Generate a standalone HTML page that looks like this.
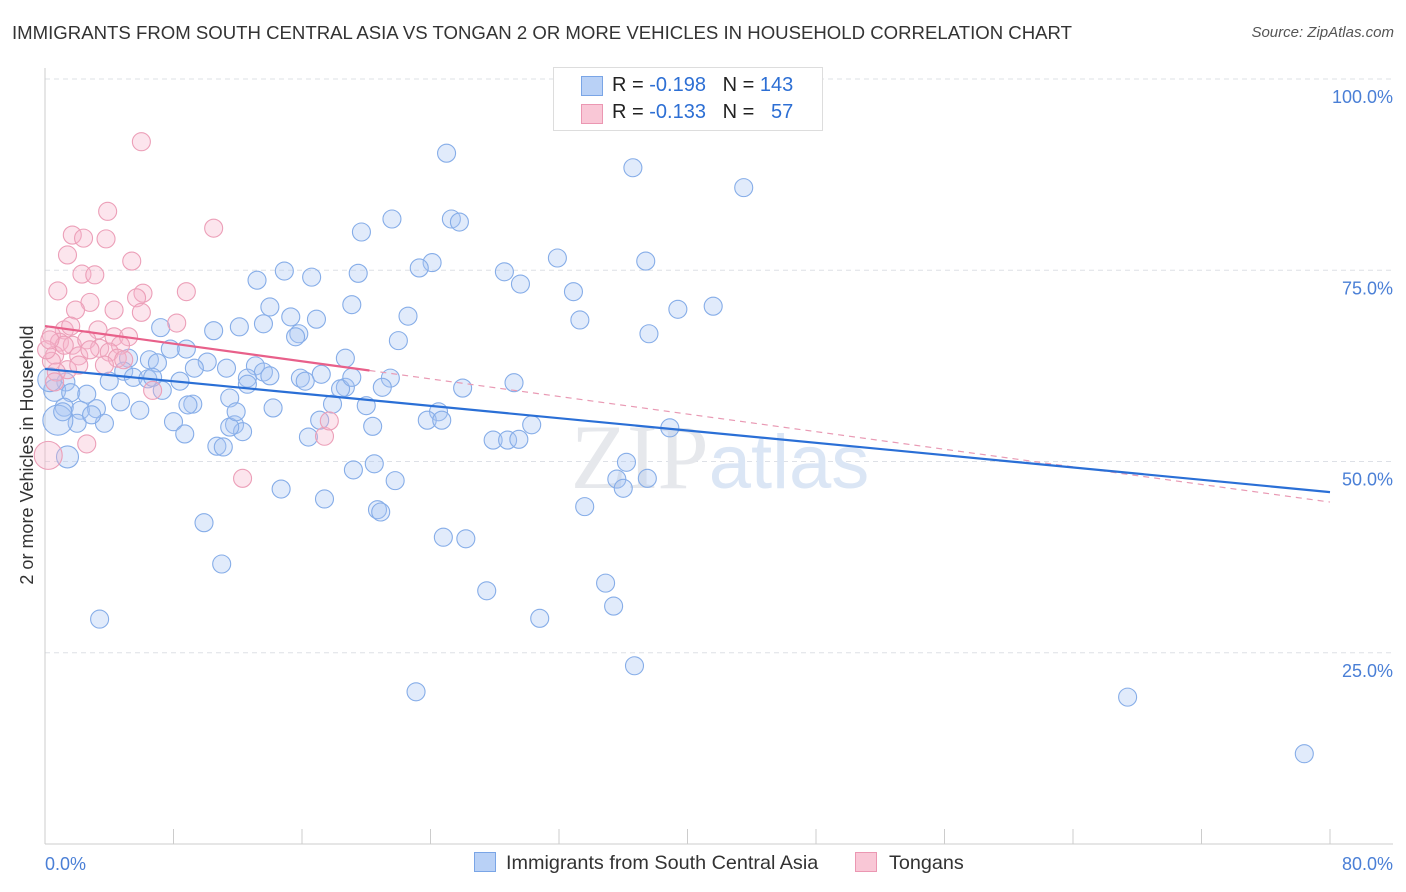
<!DOCTYPE html>
<html><head><meta charset="utf-8"><style>
body{margin:0;background:#fff;font-family:"Liberation Sans",sans-serif;}
#wrap{position:relative;width:1406px;height:892px;overflow:hidden;}
.t{position:absolute;white-space:nowrap;}
</style></head><body>
<div id="wrap">
<div class="t" style="left:12px;top:22px;font-size:18.6px;color:#333">IMMIGRANTS FROM SOUTH CENTRAL ASIA VS TONGAN 2 OR MORE VEHICLES IN HOUSEHOLD CORRELATION CHART</div>
<div class="t" style="right:12px;top:24px;font-size:15px;color:#555;font-style:italic">Source: ZipAtlas.com</div>
<svg id="svg" width="1406" height="892" style="position:absolute;left:0;top:0"></svg>
</div>
<script>
const blueX=[25.0,36.6,43.5,21.6,25.3,25.8,19.7,31.9,24.1,37.4,23.3,14.9,28.6,19.5,16.6,13.2,29.6,32.9,19.1,41.6,14.0,39.4,15.3,22.6,33.3,16.9,12.1,13.6,7.2,10.5,15.8,15.6,37.6,22.0,8.8,7.8,18.7,5.2,6.5,7.0,10.1,9.3,13.1,11.3,4.9,13.6,1.3,4.0,5.5,12.6,15.9,21.5,16.2,29.2,8.4,6.4,14.0,17.2,26.0,21.0,7.3,18.7,18.4,9.2,11.5,4.7,0.6,1.6,2.6,3.2,1.2,2.2,14.2,17.9,20.0,8.9,5.9,24.5,17.1,23.8,24.7,30.3,2.0,3.7,20.4,11.8,12.3,8.0,11.5,8.7,16.4,27.9,28.8,29.5,38.9,10.7,11.1,0.8,1.4,36.2,20.5,19.2,35.6,37.5,21.8,14.7,36.0,17.4,20.7,20.9,33.6,9.9,24.8,26.2,11.0,34.9,27.5,35.4,3.4,30.8,36.7,23.1,67.4,78.4,0.3,1.1,2.9,6.7,12.6,11.9,19.1];
const blueY=[90.3,88.4,85.8,81.7,81.7,81.3,80.0,76.6,76.0,76.2,75.3,74.9,74.8,74.6,74.1,73.7,73.2,72.2,70.5,70.3,70.2,69.9,68.9,69.0,68.5,68.6,67.6,68.0,67.5,67.1,66.7,66.3,66.7,65.8,64.7,64.7,63.5,63.5,63.3,62.9,63.0,62.2,62.5,62.2,61.8,61.7,60.4,60.5,61.0,60.9,60.9,60.9,60.5,60.3,60.5,60.8,61.2,61.4,59.6,59.7,59.3,59.7,59.5,57.5,58.3,57.8,59.3,59.0,58.8,56.9,57.1,56.7,57.0,57.5,57.3,57.4,56.7,56.5,55.4,55.4,55.4,54.8,55.0,55.0,54.6,54.8,53.9,55.2,54.5,53.6,53.2,52.8,52.8,52.9,54.4,52.0,51.9,55.4,50.6,49.9,49.7,48.9,47.7,47.8,47.5,46.4,46.5,45.1,43.7,43.4,44.1,42.0,40.1,39.9,36.6,34.1,33.1,31.1,29.4,29.5,23.3,19.9,19.2,11.8,60.7,56.5,56.1,61.0,60.1,56.5,61.0];
const blueBig={97:15,98:11,124:12,66:11};
const pinkX=[6.0,3.9,10.5,1.7,2.4,3.8,1.4,5.4,2.3,3.1,0.8,6.1,8.8,2.8,5.7,1.9,6.0,4.3,8.2,1.2,3.3,4.3,0.4,0.9,1.7,2.6,5.2,3.4,4.7,0.6,2.1,4.0,4.5,1.4,2.1,4.9,0.4,0.7,0.1,0.2,2.6,12.3,17.4,17.7,6.7,0.6,2.8,3.7,1.6,1.2,0.3];
const pinkY=[91.8,82.7,80.5,79.6,79.2,79.1,77.0,76.2,74.5,74.4,72.3,72.0,72.2,70.8,71.4,69.8,69.5,69.8,68.1,67.2,67.2,66.3,66.5,65.6,65.2,65.9,66.3,64.8,65.2,63.9,63.8,64.3,63.5,62.0,62.6,63.3,63.1,61.7,64.6,50.8,52.3,47.8,53.3,55.3,59.3,60.4,64.6,62.6,67.7,65.2,65.9];
const pinkBig={39:14};
const blueTrend=[62.1,46.0];
const pinkTrend=[67.7,44.7];
const pinkSolidEnd=20.2;
const yTicks=[25,50,75,100];
const xTickVals=[0,8,16,24,32,40,48,56,64,72,80];

const NS="http://www.w3.org/2000/svg";
const svg=document.getElementById('svg');
const X0=45,X1=1330,Y0=844,Y100=79;
const sx=v=>X0+(v/80)*(X1-X0);
const sy=v=>Y0-(v/100)*(Y0-Y100);
function mk(tag,attrs,parent){const e=document.createElementNS(NS,tag);for(const k in attrs)e.setAttribute(k,attrs[k]);(parent||svg).appendChild(e);return e;}

yTicks.forEach(v=>{
  const g=mk('line',{x1:X0,x2:1393,y1:sy(v),y2:sy(v),stroke:'#dde0e6','stroke-dasharray':'5,4','stroke-width':1});
  
  
  const t=mk('text',{x:1393,y:sy(v)+24,'text-anchor':'end','font-size':18,fill:'#4a7fd6','font-family':'Liberation Sans, sans-serif'});
  t.textContent=v.toFixed(1)+'%';
  
  
});
const ax=mk('line',{x1:X0,x2:X0,y1:68,y2:Y0,stroke:'#ccc'});


const bx=mk('line',{x1:X0,x2:1393,y1:Y0,y2:Y0,stroke:'#ccc'});


xTickVals.forEach(v=>{
  const l=mk('line',{x1:sx(v),x2:sx(v),y1:829,y2:Y0,stroke:'#ccc'});
  
  
});
const xl0=mk('text',{x:45,y:870,'font-size':18,fill:'#4a7fd6','font-family':'Liberation Sans, sans-serif'});xl0.textContent='0.0%';


const xl1=mk('text',{x:1393,y:870,'text-anchor':'end','font-size':18,fill:'#4a7fd6','font-family':'Liberation Sans, sans-serif'});xl1.textContent='80.0%';


const yt=mk('text',{x:0,y:0,transform:'translate(33,455) rotate(-90)','text-anchor':'middle','font-size':18,fill:'#333','font-family':'Liberation Sans, sans-serif'});
yt.textContent='2 or more Vehicles in Household';



const wm=mk('text',{x:720,y:488,'text-anchor':'middle','font-size':92,'font-family':'Liberation Serif, serif',fill:'#e6e8ec'});
wm.innerHTML='ZIP<tspan font-family="Liberation Sans, sans-serif" font-size="76" fill="#dbe6f5">atlas</tspan>';



blueX.forEach((v,i)=>{
  const c=mk('circle',{cx:sx(v),cy:sy(blueY[i]),r:blueBig[i]||9,fill:'rgba(170,198,244,0.35)',stroke:'#86ade8','stroke-width':1.1});
  
  
});
pinkX.forEach((v,i)=>{
  const c=mk('circle',{cx:sx(v),cy:sy(pinkY[i]),r:pinkBig[i]||9,fill:'rgba(246,180,202,0.35)',stroke:'#ec9fb8','stroke-width':1.1});
  
  
});
const pAt=x=>pinkTrend[0]+(pinkTrend[1]-pinkTrend[0])*x/80;
const pd=mk('line',{x1:sx(pinkSolidEnd),y1:sy(pAt(pinkSolidEnd)),x2:sx(80),y2:sy(pinkTrend[1]),stroke:'#e99ab4','stroke-width':1.2,'stroke-dasharray':'6,5'});


const bl=mk('line',{x1:sx(0),y1:sy(blueTrend[0]),x2:sx(80),y2:sy(blueTrend[1]),stroke:'#2a6fd6','stroke-width':2.2});


const pl=mk('line',{x1:sx(0),y1:sy(pinkTrend[0]),x2:sx(pinkSolidEnd),y2:sy(pAt(pinkSolidEnd)),stroke:'#e8608a','stroke-width':2.2});


</script>
<div class="t" style="left:553px;top:67px;width:268px;height:62px;border:1px solid #ddd;background:#fff;font-size:20px">
 <div style="position:absolute;left:27px;top:8px;width:20px;height:18px;background:#b9d1f6;border:1px solid #7aa5e6"></div>
 <div style="position:absolute;left:58px;top:6px;color:#222">R = <span style="color:#2d6fd4">-0.198</span>&nbsp;&nbsp;&nbsp;N = <span style="color:#2d6fd4">143</span></div>
 <div style="position:absolute;left:27px;top:36px;width:20px;height:18px;background:#f9c7d6;border:1px solid #eb97b2"></div>
 <div style="position:absolute;left:58px;top:33px;color:#222">R = <span style="color:#2d6fd4">-0.133</span>&nbsp;&nbsp;&nbsp;N = &nbsp;&nbsp;<span style="color:#2d6fd4">57</span></div>
</div>
<div class="t" style="left:474px;top:852px;font-size:19.8px;color:#333"><span style="display:inline-block;width:20px;height:18px;background:#b9d1f6;border:1px solid #7aa5e6;vertical-align:-3px;margin-right:10px"></span>Immigrants from South Central Asia</div>
<div class="t" style="left:855px;top:852px;font-size:19.8px;color:#333"><span style="display:inline-block;width:20px;height:18px;background:#f9c7d6;border:1px solid #eb97b2;vertical-align:-3px;margin-right:12px"></span>Tongans</div>
</body></html>
